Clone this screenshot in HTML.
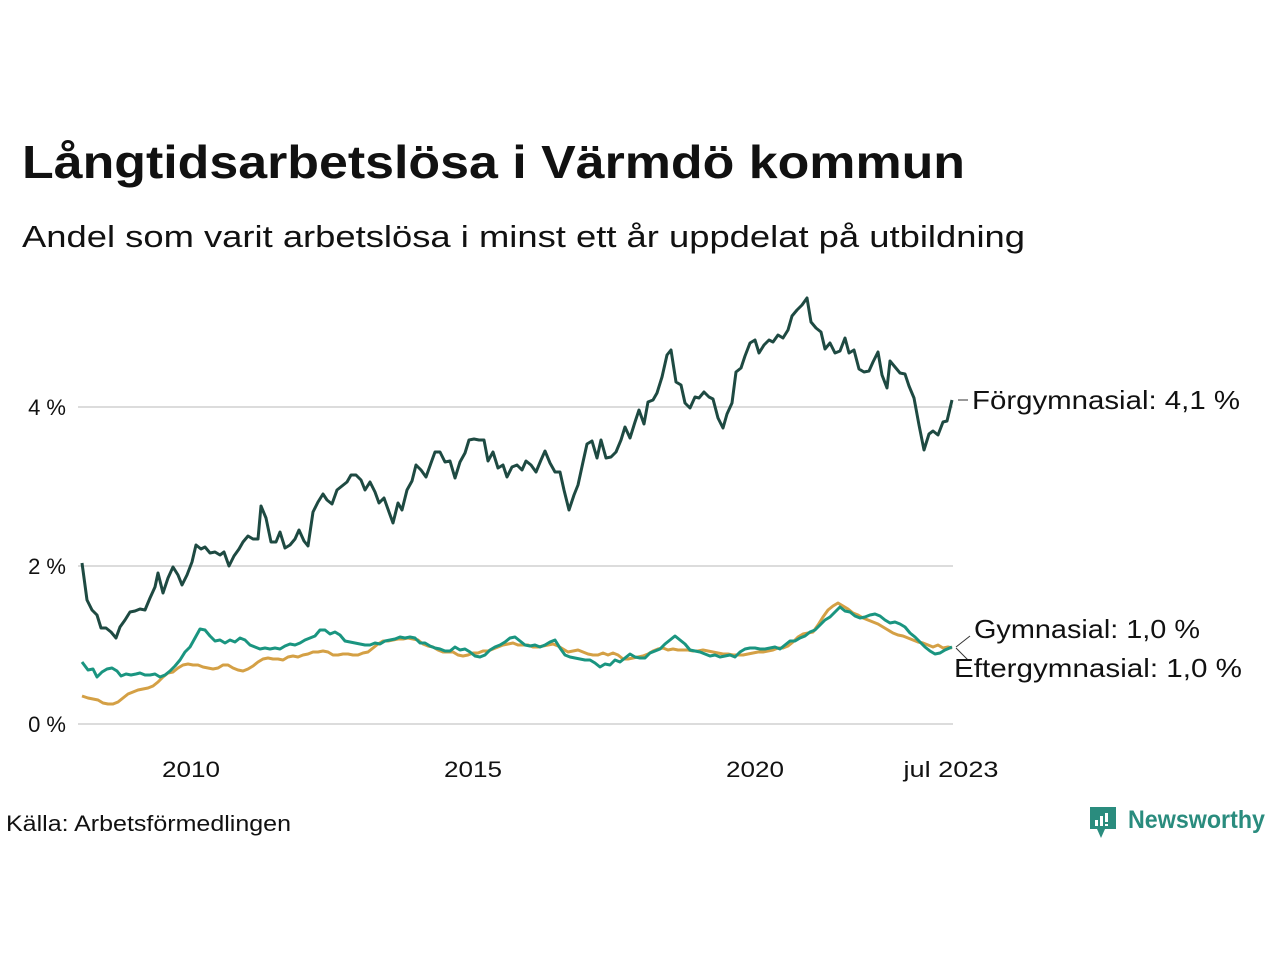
<!DOCTYPE html>
<html><head><meta charset="utf-8"><style>
html,body{margin:0;padding:0;background:#fff;width:1280px;height:960px;overflow:hidden}
svg{display:block}
text{font-family:"Liberation Sans",sans-serif;fill:#111}
</style></head><body>
<svg width="1280" height="960" xmlns="http://www.w3.org/2000/svg">
<text x="22" y="178" font-size="46" font-weight="bold" textLength="943" lengthAdjust="spacingAndGlyphs">Långtidsarbetslösa i Värmdö kommun</text>
<text x="22" y="247" font-size="31" textLength="1003" lengthAdjust="spacingAndGlyphs">Andel som varit arbetslösa i minst ett år uppdelat på utbildning</text>
<g stroke="#dcdcdc" stroke-width="2">
<line x1="78" y1="407" x2="953" y2="407"/><line x1="78" y1="566" x2="953" y2="566"/><line x1="78" y1="724" x2="953" y2="724"/>
</g>
<g font-size="22" text-anchor="end"><text x="66" y="415">4 %</text><text x="66" y="574">2 %</text><text x="66" y="732">0 %</text></g>
<g font-size="22" text-anchor="middle"><text x="191" y="777" textLength="58" lengthAdjust="spacingAndGlyphs">2010</text><text x="473" y="777" textLength="58" lengthAdjust="spacingAndGlyphs">2015</text><text x="755" y="777" textLength="58" lengthAdjust="spacingAndGlyphs">2020</text><text x="951" y="777" textLength="95" lengthAdjust="spacingAndGlyphs">jul 2023</text></g>
<g fill="none" stroke-width="3" stroke-linejoin="round">
<polyline stroke="#d4a045" points="82,696 88,698 93,699 98,700 103,703 108,704 113,704 118,702 123,698 128,694 133,692 138,690 143,689 148,688 153,686 158,682 163,677 168,673 173,672 178,668 183,665 188,664 193,665 198,665 203,667 208,668 213,669 218,668 223,665 228,665 233,668 238,670 243,671 248,669 253,666 258,662 263,659 268,658 273,659 278,659 283,660 288,657 293,656 298,657 303,655 308,654 313,652 318,652 323,651 328,652 333,655 338,655 343,654 348,654 353,655 358,655 363,653 368,652 373,648 378,644 383,641 388,641 393,640 398,639 403,639 408,638 413,639 418,640 423,644 428,646 433,647 438,650 443,652 448,652 453,652 458,655 463,656 468,655 473,653 478,653 483,651 488,651 493,649 498,647 503,645 508,644 513,643 518,645 523,645 528,645 533,647 538,647 543,646 548,645 553,644 558,646 563,649 568,652 573,651 578,650 583,652 588,654 593,655 598,655 603,653 608,655 613,653 618,655 623,659 628,659 633,658 638,657 643,656 648,654 653,651 658,649 663,648 668,650 673,649 678,650 683,650 688,650 693,651 698,651 703,650 708,651 713,652 718,653 723,654 728,654 733,655 738,655 743,655 748,654 753,653 758,652 763,652 768,651 773,650 778,648 783,648 788,646 793,642 798,637 803,634 808,633 813,632 818,625 823,617 828,610 833,606 838,603 843,606 848,609 853,613 858,615 863,618 868,620 873,622 878,624 883,627 888,630 893,633 898,635 903,636 908,638 913,640 918,642 923,643 928,645 933,647 938,645 943,648 948,647 952,648"/>
<polyline stroke="#1a9580" points="82,662 88,670 93,669 97,677 102,672 107,669 112,668 117,671 121,676 126,674 131,675 136,674 140,673 145,675 150,675 155,674 160,677 165,675 170,671 175,666 180,660 185,652 190,647 195,638 200,629 205,630 210,636 215,641 220,640 225,643 230,640 235,642 240,638 245,640 250,645 255,647 260,649 265,648 270,649 275,648 280,649 285,646 290,644 295,645 300,643 305,640 310,638 315,636 320,630 325,630 330,634 335,632 340,635 345,641 350,642 355,643 360,644 365,645 370,645 375,643 380,644 385,641 390,640 395,639 400,637 405,638 410,637 415,638 420,643 425,643 430,646 435,648 440,649 445,651 450,651 455,647 460,650 465,649 470,652 475,656 480,657 485,655 490,650 495,647 500,645 505,642 510,638 515,637 520,641 525,645 530,646 535,645 540,647 545,645 550,642 555,640 560,648 565,655 570,657 575,658 580,659 585,660 590,660 595,663 600,667 605,664 610,665 615,660 620,662 625,658 630,654 635,657 640,658 645,658 650,653 655,651 660,649 665,644 670,640 675,636 680,640 685,644 690,650 695,651 700,652 705,654 710,656 715,655 720,657 725,656 730,655 735,657 740,652 745,649 750,648 755,648 760,649 765,649 770,648 775,647 780,649 785,645 790,641 795,641 800,638 805,636 810,632 815,630 820,625 825,620 830,617 835,612 840,607 845,611 850,612 855,616 860,618 865,617 870,615 875,614 880,616 885,620 890,623 895,622 900,624 905,627 910,633 915,637 920,642 925,647 930,651 935,654 940,653 945,650 952,647"/>
<polyline stroke="#1e4a42" points="82,563 87,600 92,610 97,615 101,628 106,628 111,632 116,638 120,627 125,620 130,612 135,611 140,609 145,610 150,598 155,587 158,573 163,593 168,578 173,567 178,575 182,585 187,575 192,562 196,545 201,549 205,547 210,553 215,552 220,555 224,552 229,566 234,556 239,549 243,542 248,536 253,539 258,539 261,506 266,518 271,542 276,542 280,532 285,548 290,545 295,539 299,530 304,541 308,546 313,512 318,502 323,494 327,500 332,504 337,490 342,486 347,482 351,475 356,475 361,480 365,490 370,482 375,492 379,503 384,498 389,512 393,523 398,503 402,510 407,490 412,481 416,465 421,470 426,477 431,463 435,452 440,452 445,462 450,461 455,478 460,462 465,453 469,440 474,439 479,440 484,440 488,461 493,452 498,468 503,465 507,477 512,467 517,465 522,470 526,461 531,465 536,472 541,460 545,451 550,463 555,472 560,472 564,490 569,510 574,495 578,485 583,462 587,444 592,441 597,458 601,440 606,458 611,457 616,452 621,440 625,427 630,438 635,422 639,410 644,424 648,402 653,400 657,393 662,377 667,355 671,350 676,382 681,385 685,403 690,408 695,397 699,398 704,392 709,397 713,399 718,418 723,428 727,414 732,403 736,372 741,368 745,356 750,343 755,340 759,353 764,345 769,340 773,342 778,335 783,338 788,330 792,316 797,310 802,305 807,298 811,322 816,328 821,332 825,349 830,343 835,353 840,351 845,338 849,353 854,350 859,369 864,372 869,371 873,362 878,352 882,375 887,388 890,361 895,367 900,373 905,374 909,386 914,398 919,425 924,450 929,434 933,431 938,435 943,422 947,421 952,400"/>
</g>
<g stroke="#333" stroke-width="1"><line x1="958" y1="400" x2="968" y2="400"/><line x1="956" y1="647" x2="970" y2="636"/><line x1="956" y1="648" x2="968" y2="660"/></g>
<g font-size="26"><text x="972" y="409" textLength="268" lengthAdjust="spacingAndGlyphs">Förgymnasial: 4,1 %</text><text x="974" y="638" textLength="226" lengthAdjust="spacingAndGlyphs">Gymnasial: 1,0 %</text><text x="954" y="677" textLength="288" lengthAdjust="spacingAndGlyphs">Eftergymnasial: 1,0 %</text></g>
<text x="6" y="831" font-size="22" textLength="285" lengthAdjust="spacingAndGlyphs">Källa: Arbetsförmedlingen</text>
<g fill="#2a8c7e">
<path d="M1090,807 h26 v22 h-11 l-4,9 l-4,-9 h-7 z"/>
</g>
<g fill="#fff"><rect x="1095" y="820" width="3" height="6"/><rect x="1100" y="816" width="3" height="10"/><rect x="1105" y="813" width="3" height="9"/><rect x="1105" y="824" width="3" height="2"/></g>
<text x="1128" y="828" font-size="25" font-weight="bold" style="fill:#2a8c7e" textLength="137" lengthAdjust="spacingAndGlyphs">Newsworthy</text>
</svg>
</body></html>
